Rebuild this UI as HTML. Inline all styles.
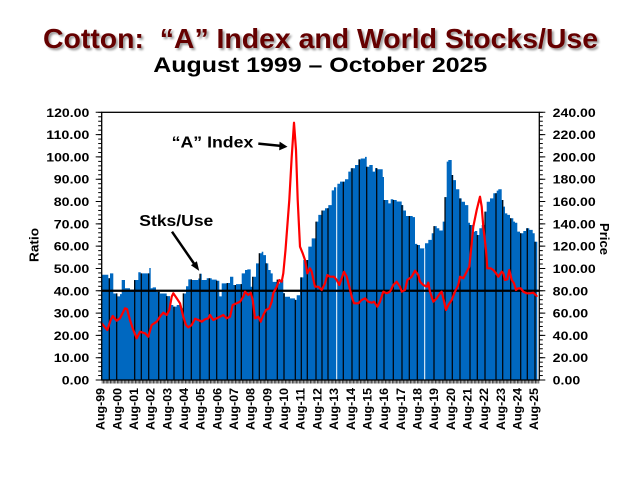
<!DOCTYPE html>
<html>
<head>
<meta charset="utf-8">
<style>
html,body{margin:0;padding:0;background:#fff;}
svg{display:block;}
text{font-family:"Liberation Sans",Arial,sans-serif;font-weight:bold;}
</style>
</head>
<body>
<svg width="640" height="480" viewBox="0 0 640 480" xmlns="http://www.w3.org/2000/svg">
<defs>
<filter id="sh" x="-5%" y="-20%" width="110%" height="150%">
<feGaussianBlur in="SourceAlpha" stdDeviation="1"/>
<feOffset dx="2" dy="2" result="o"/>
<feComponentTransfer><feFuncA type="linear" slope="0.4"/></feComponentTransfer>
<feMerge><feMergeNode/><feMergeNode in="SourceGraphic"/></feMerge>
</filter>
<pattern id="xt" x="101.7" y="0" width="1.3889" height="10" patternUnits="userSpaceOnUse">
<rect x="0" y="0" width="0.7" height="10" fill="#000"/>
</pattern>
<pattern id="lt" x="0" y="111.81" width="20" height="4.4615" patternUnits="userSpaceOnUse">
<rect x="0" y="0" width="20" height="1" fill="#000"/>
</pattern>
</defs>
<rect width="640" height="480" fill="#fff"/>

<!-- Titles -->
<text x="43" y="48" font-size="28" fill="#650000" textLength="555" lengthAdjust="spacingAndGlyphs" filter="url(#sh)">Cotton:&#160; “A” Index and World Stocks/Use</text>
<text x="153.3" y="72" font-size="21.5" fill="#000" textLength="334" lengthAdjust="spacingAndGlyphs">August 1999 – October 2025</text>

<!-- Bars -->
<path fill="#0068c0" d="M101.7 380 V274.71 H108.3 V278.28 H110 V273.37 H113.3 V293.45 H117.3 V296.34 H120 V294.11 H121.7 V280.06 H125 V288.31 H130 V289.65 H134 V280.06 H138.3 V272.25 H140.7 V273.37 H149.3 V268.01 H150.7 V288.31 H152.7 V287.42 H156 V291.88 H160 V293.45 H166.7 V296.12 H170 V305.05 H173.3 V306.61 H176.7 V305.05 H180 V308.39 H183.3 V293.45 H186 V286.31 H188.3 V279.39 H191.7 V280.06 H198.3 V278.5 H200 V273.81 H201.7 V280.06 H206.7 V278.28 H211.7 V279.61 H216.7 V280.73 H219.3 V296.34 H221.7 V283.41 H226.7 V282.96 H230 V276.71 H233.3 V284.97 H236 V284.08 H241.7 V273.37 H245 V270.02 H247.3 V269.35 H250.7 V286.75 H252.7 V276.71 H256 V263.33 H259.3 V253.29 H261.7 V251.73 H263.3 V255.08 H266 V263.33 H268.3 V270.02 H270.7 V273.37 H272.7 V281.84 H276.7 V279.61 H278.3 V283.41 H280 V280.06 H283.3 V293.22 H285 V296.79 H290 V298.35 H295 V299.91 H296.7 V295.23 H300 V277.38 H303.3 V259.98 H308.3 V246.6 H311.7 V238.34 H316 V221.61 H318.3 V214.92 H321.7 V210.46 H325 V208.23 H328.3 V205.11 H331.7 V190.38 H334 V187.26 H337.3 V183.69 H340 V181.68 H345 V179.23 H348.3 V171.64 H350.7 V168.3 H355 V164.95 H358.3 V159.37 H360.7 V158.48 H365 V156.92 H366.7 V166.74 H369.3 V164.95 H372.7 V171.64 H375 V168.07 H377.3 V169.19 H382.7 V177 H384 V199.97 H388.3 V203.32 H390.7 V199.31 H393.3 V199.97 H396.7 V201.54 H401.7 V205.11 H403.3 V210.46 H406 V216.04 H412.7 V217.15 H415 V243.92 H417.3 V245.04 H420 V248.38 H425 V243.25 H428.3 V239.91 H431.7 V233.21 H434 V226.07 H436.7 V228.31 H439.3 V230.54 H442.7 V221.61 H445 V197.07 H446.7 V161.6 H448.3 V160.04 H451.7 V174.99 H453.3 V180.12 H456 V189.27 H459.3 V198.41 H461.7 V201.76 H465 V205.11 H468.3 V222.73 H470 V224.96 H472.7 V231.65 H475 V230.98 H477.3 V235 H479.3 V228.31 H481.7 V224.96 H485 V211.57 H486.7 V201.76 H490 V198.41 H493.3 V193.28 H496.7 V190.6 H498.3 V189.27 H501.7 V199.97 H503.3 V206.67 H505 V213.36 H507.3 V214.92 H510 V218.27 H513.3 V221.61 H515 V222.73 H517.3 V231.65 H520 V233.21 H523.3 V230.98 H526 V228.31 H529.3 V229.87 H532.7 V233.21 H534.7 V241.69 H537.3 V380 Z"/>

<!-- Black separator lines inside bars -->
<path stroke="#000" stroke-width="1.2" fill="none" d="M109.3 380V278.3 M116.7 380V293.4 M134.7 380V280.1 M141.3 380V273.4 M148.7 380V273.4 M158.7 380V291.9 M166.7 380V296.1 M174 380V306.6 M183.3 380V293.4 M191.3 380V279.4 M200 380V273.8 M209.3 380V278.3 M216.7 380V280.7 M227.3 380V283 M235.3 380V285 M241.3 380V284.1 M252.7 380V276.7 M259.3 380V253.3 M266 380V263.3 M277.3 380V279.6 M284 380V293.2 M295.3 380V299.9 M301.3 380V277.4 M307.3 380V260 M316 380V221.6 M322 380V210.5 M328 380V208.2 M343.3 380V181.7 M352 380V168.3 M359.3 380V159.4 M366.7 380V166.7 M376.7 380V168.1 M384 380V200 M393.3 380V200 M402 380V205.1 M409.3 380V216 M417.3 380V245 M434 380V226.1 M445 380V197.1 M452.3 380V175 M460 380V198.4 M470 380V225 M477.3 380V235 M485 380V211.6 M496 380V193.3 M502.7 380V200 M510.7 380V218.3 M520.7 380V233.2 M527.3 380V228.3 M535 380V241.7"/>
<path stroke="#fff" stroke-width="1" fill="none" d="M336.7 380V183.7 M424.7 380V248.4"/>

<!-- 40 reference line -->
<line x1="101.7" y1="290.77" x2="539.3" y2="290.77" stroke="#000" stroke-width="2.2"/>

<!-- Red price line -->
<polyline fill="none" stroke="#ff0000" stroke-width="2.2" stroke-linejoin="round" stroke-linecap="round" points="101.7,323.3 105,327.3 107.3,330 110.7,320 112.7,316 116.7,320.7 120,318.3 121.7,315 125,308.3 127,309 130,320 133.3,330 136.7,338.3 140,331.7 145,333.3 148.3,336.7 151.7,325 156.7,321.7 160,316.7 163.3,312.7 166.7,315 169.3,310 171.7,296.7 173.3,293.3 176.7,298.3 180,303.3 183.3,316.7 186,325 188.3,327.3 191.7,325 195,318.7 198.3,320 201.7,321.7 205,319.3 208.3,318.3 210,315 213.3,320 216.7,318.3 220,316.7 223.3,315 226.7,318.3 230,316.7 232.7,305 236.7,303.3 240,301.7 243.3,296.7 245,291.7 248.3,295 250.7,292.7 252.7,300 255,318.3 258.3,316.7 260.7,321.7 263.3,315 266,310 269.3,308.3 271.7,301.7 273.3,293.3 276.7,286.7 279.3,280 281.7,281.7 283.3,273.3 285.5,250 289.3,200 291.7,157 294,122.7 296,150 297.7,200 300,246.7 302.7,253.3 305,260 307.3,273.3 310,268.3 311.7,271.7 315,286.7 318.3,286.7 321.7,290 325,283.3 327.3,275 330,276.7 334,276.7 336.7,280 339.3,285 341.7,278.3 344,271.7 346.7,276.7 349.3,286.7 351.7,296.7 354,303.3 358.3,303.3 361.7,300 365,298.3 368.3,301.7 371.7,302.7 374,301.7 377.3,306.7 380,301.7 383.3,291.7 386.7,293.3 390,291.7 393.3,285 396.7,281.7 400,286.7 401.7,291.7 405,290 407.3,280 411.7,276.7 415,270.7 418.3,275 420,281.7 423.3,285 426.7,286.7 428.3,282.7 430,291.7 433.3,301.7 436.7,298.3 440,293.3 441.7,291.7 443.3,298.3 446,310 448.3,305 451.7,300 455,291.7 458.3,285 460,276.7 463.3,278.3 466.7,271.7 469.3,266.7 470.7,253.3 473.3,226.7 476.7,210 480,196.7 481.7,206.7 483.3,226.7 486,250 487.3,268.3 490.7,268.3 493.3,270 496,273.3 498.3,276.7 501.7,271.7 503.3,273.3 505,280 507.3,279.3 509.3,270 511.7,280 514,283.3 516,290 518.3,288.3 520.7,288.3 523.3,291.7 526.7,293.3 530,293.3 533.3,292.7 536.7,296"/>

<!-- Plot frame -->
<rect x="101.7" y="112.31" width="437.6" height="267.69" fill="none" stroke="#000" stroke-width="1.3"/>

<!-- Axis ticks -->
<rect x="101.7" y="380" width="437.6" height="3.5" fill="url(#xt)"/>
<rect x="98.2" y="111.81" width="3.5" height="268.7" fill="url(#lt)"/>
<rect x="539.3" y="111.81" width="3.5" height="268.7" fill="url(#lt)"/>
<path stroke="#000" stroke-width="1" fill="none" d="M95.7 112.31H101.7 M95.7 134.62H101.7 M95.7 156.92H101.7 M95.7 179.23H101.7 M95.7 201.54H101.7 M95.7 223.85H101.7 M95.7 246.15H101.7 M95.7 268.46H101.7 M95.7 290.77H101.7 M95.7 313.08H101.7 M95.7 335.38H101.7 M95.7 357.69H101.7 M95.7 380H101.7 M539.3 112.31H545.3 M539.3 134.62H545.3 M539.3 156.92H545.3 M539.3 179.23H545.3 M539.3 201.54H545.3 M539.3 223.85H545.3 M539.3 246.15H545.3 M539.3 268.46H545.3 M539.3 290.77H545.3 M539.3 313.08H545.3 M539.3 335.38H545.3 M539.3 357.69H545.3 M539.3 380H545.3"/>

<!-- Left axis labels -->
<g font-size="12" fill="#000" text-anchor="end">
<text x="89.3" y="116.8" textLength="43" lengthAdjust="spacingAndGlyphs">120.00</text>
<text x="89.3" y="139.1" textLength="43" lengthAdjust="spacingAndGlyphs">110.00</text>
<text x="89.3" y="161.4" textLength="43" lengthAdjust="spacingAndGlyphs">100.00</text>
<text x="89.3" y="183.7" textLength="35.5" lengthAdjust="spacingAndGlyphs">90.00</text>
<text x="89.3" y="206.0" textLength="35.5" lengthAdjust="spacingAndGlyphs">80.00</text>
<text x="89.3" y="228.4" textLength="35.5" lengthAdjust="spacingAndGlyphs">70.00</text>
<text x="89.3" y="250.7" textLength="35.5" lengthAdjust="spacingAndGlyphs">60.00</text>
<text x="89.3" y="273.0" textLength="35.5" lengthAdjust="spacingAndGlyphs">50.00</text>
<text x="89.3" y="295.3" textLength="35.5" lengthAdjust="spacingAndGlyphs">40.00</text>
<text x="89.3" y="317.6" textLength="35.5" lengthAdjust="spacingAndGlyphs">30.00</text>
<text x="89.3" y="339.9" textLength="35.5" lengthAdjust="spacingAndGlyphs">20.00</text>
<text x="89.3" y="362.2" textLength="35.5" lengthAdjust="spacingAndGlyphs">10.00</text>
<text x="89.3" y="384.5" textLength="27.5" lengthAdjust="spacingAndGlyphs">0.00</text>
</g>

<!-- Right axis labels -->
<g font-size="12" fill="#000" text-anchor="start">
<text x="552.7" y="116.8" textLength="43" lengthAdjust="spacingAndGlyphs">240.00</text>
<text x="552.7" y="139.1" textLength="43" lengthAdjust="spacingAndGlyphs">220.00</text>
<text x="552.7" y="161.4" textLength="43" lengthAdjust="spacingAndGlyphs">200.00</text>
<text x="552.7" y="183.7" textLength="43" lengthAdjust="spacingAndGlyphs">180.00</text>
<text x="552.7" y="206.0" textLength="43" lengthAdjust="spacingAndGlyphs">160.00</text>
<text x="552.7" y="228.4" textLength="43" lengthAdjust="spacingAndGlyphs">140.00</text>
<text x="552.7" y="250.7" textLength="43" lengthAdjust="spacingAndGlyphs">120.00</text>
<text x="552.7" y="273.0" textLength="43" lengthAdjust="spacingAndGlyphs">100.00</text>
<text x="552.7" y="295.3" textLength="35.5" lengthAdjust="spacingAndGlyphs">80.00</text>
<text x="552.7" y="317.6" textLength="35.5" lengthAdjust="spacingAndGlyphs">60.00</text>
<text x="552.7" y="339.9" textLength="35.5" lengthAdjust="spacingAndGlyphs">40.00</text>
<text x="552.7" y="362.2" textLength="35.5" lengthAdjust="spacingAndGlyphs">20.00</text>
<text x="552.7" y="384.5" textLength="27.5" lengthAdjust="spacingAndGlyphs">0.00</text>
</g>

<!-- Axis titles -->
<text transform="translate(38.3,245) rotate(-90)" font-size="12.5" text-anchor="middle" textLength="34" lengthAdjust="spacingAndGlyphs">Ratio</text>
<text transform="translate(600,239) rotate(90)" font-size="12.5" text-anchor="middle" textLength="32" lengthAdjust="spacingAndGlyphs">Price</text>

<!-- X labels -->
<g font-size="11.5" fill="#000" text-anchor="end">
<text transform="translate(104.7,388) rotate(-90)" textLength="42" lengthAdjust="spacingAndGlyphs">Aug-99</text>
<text transform="translate(121.37,388) rotate(-90)" textLength="42" lengthAdjust="spacingAndGlyphs">Aug-00</text>
<text transform="translate(138.04,388) rotate(-90)" textLength="42" lengthAdjust="spacingAndGlyphs">Aug-01</text>
<text transform="translate(154.71,388) rotate(-90)" textLength="42" lengthAdjust="spacingAndGlyphs">Aug-02</text>
<text transform="translate(171.38,388) rotate(-90)" textLength="42" lengthAdjust="spacingAndGlyphs">Aug-03</text>
<text transform="translate(188.05,388) rotate(-90)" textLength="42" lengthAdjust="spacingAndGlyphs">Aug-04</text>
<text transform="translate(204.72,388) rotate(-90)" textLength="42" lengthAdjust="spacingAndGlyphs">Aug-05</text>
<text transform="translate(221.39,388) rotate(-90)" textLength="42" lengthAdjust="spacingAndGlyphs">Aug-06</text>
<text transform="translate(238.06,388) rotate(-90)" textLength="42" lengthAdjust="spacingAndGlyphs">Aug-07</text>
<text transform="translate(254.73,388) rotate(-90)" textLength="42" lengthAdjust="spacingAndGlyphs">Aug-08</text>
<text transform="translate(271.4,388) rotate(-90)" textLength="42" lengthAdjust="spacingAndGlyphs">Aug-09</text>
<text transform="translate(288.07,388) rotate(-90)" textLength="42" lengthAdjust="spacingAndGlyphs">Aug-10</text>
<text transform="translate(304.74,388) rotate(-90)" textLength="42" lengthAdjust="spacingAndGlyphs">Aug-11</text>
<text transform="translate(321.41,388) rotate(-90)" textLength="42" lengthAdjust="spacingAndGlyphs">Aug-12</text>
<text transform="translate(338.08,388) rotate(-90)" textLength="42" lengthAdjust="spacingAndGlyphs">Aug-13</text>
<text transform="translate(354.75,388) rotate(-90)" textLength="42" lengthAdjust="spacingAndGlyphs">Aug-14</text>
<text transform="translate(371.42,388) rotate(-90)" textLength="42" lengthAdjust="spacingAndGlyphs">Aug-15</text>
<text transform="translate(388.09,388) rotate(-90)" textLength="42" lengthAdjust="spacingAndGlyphs">Aug-16</text>
<text transform="translate(404.76,388) rotate(-90)" textLength="42" lengthAdjust="spacingAndGlyphs">Aug-17</text>
<text transform="translate(421.43,388) rotate(-90)" textLength="42" lengthAdjust="spacingAndGlyphs">Aug-18</text>
<text transform="translate(438.1,388) rotate(-90)" textLength="42" lengthAdjust="spacingAndGlyphs">Aug-19</text>
<text transform="translate(454.77,388) rotate(-90)" textLength="42" lengthAdjust="spacingAndGlyphs">Aug-20</text>
<text transform="translate(471.44,388) rotate(-90)" textLength="42" lengthAdjust="spacingAndGlyphs">Aug-21</text>
<text transform="translate(488.11,388) rotate(-90)" textLength="42" lengthAdjust="spacingAndGlyphs">Aug-22</text>
<text transform="translate(504.78,388) rotate(-90)" textLength="42" lengthAdjust="spacingAndGlyphs">Aug-23</text>
<text transform="translate(521.45,388) rotate(-90)" textLength="42" lengthAdjust="spacingAndGlyphs">Aug-24</text>
<text transform="translate(538.12,388) rotate(-90)" textLength="42" lengthAdjust="spacingAndGlyphs">Aug-25</text>
</g>

<!-- Annotations -->
<text x="171.7" y="147.7" font-size="15.5" textLength="81.6" lengthAdjust="spacingAndGlyphs">“A” Index</text>
<line x1="258.3" y1="143.6" x2="282" y2="146" stroke="#000" stroke-width="2.5"/>
<polygon points="287.5,146.8 279.6,141.6 279.2,150.4" fill="#000"/>

<text x="139.3" y="226" font-size="16" textLength="74" lengthAdjust="spacingAndGlyphs">Stks/Use</text>
<line x1="172" y1="231.7" x2="195" y2="265" stroke="#000" stroke-width="2.5"/>
<polygon points="199.2,270.9 190.9,265.3 196.9,261.2" fill="#000"/>
</svg>
</body>
</html>
